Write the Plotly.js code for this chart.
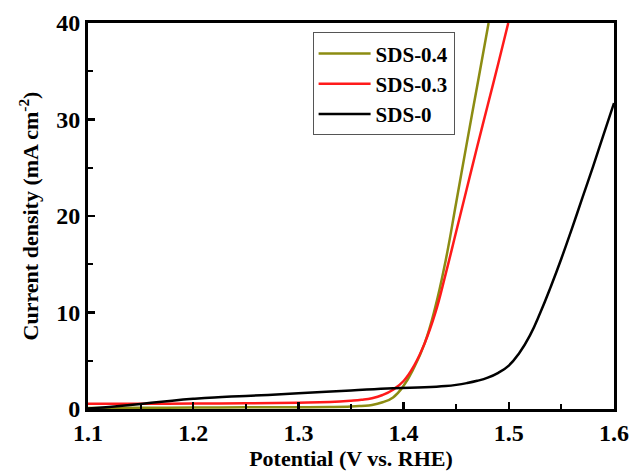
<!DOCTYPE html>
<html>
<head>
<meta charset="utf-8">
<script src="https://cdn.plot.ly/plotly-3.0.1.min.js"></script>
<style>html,body{margin:0;padding:0;background:#fff;}#chart{width:632px;height:471px;}</style>
</head>
<body>
<div id="chart"></div>
<script>
// SDS-0.4 (olive)
const v04 = [1.10, 1.15, 1.20, 1.25, 1.30, 1.33, 1.35, 1.36, 1.37, 1.38, 1.39, 1.40, 1.41, 1.42, 1.43, 1.44, 1.45, 1.46, 1.47, 1.4808];
const j04 = [0.10, 0.12, 0.15, 0.17, 0.18, 0.20, 0.25, 0.32, 0.42, 0.70, 1.20, 2.40, 4.30, 6.80, 10.5, 15.4, 21.4, 27.5, 33.5, 40.0];
// SDS-0.3 (red)
const v03 = [1.10, 1.15, 1.20, 1.25, 1.30, 1.33, 1.35, 1.36, 1.37, 1.38, 1.39, 1.40, 1.41, 1.42, 1.43, 1.44, 1.45, 1.46, 1.47, 1.48, 1.49, 1.4995];
const j03 = [0.55, 0.55, 0.56, 0.60, 0.65, 0.72, 0.85, 0.95, 1.12, 1.45, 2.00, 2.90, 4.50, 6.80, 9.90, 14.0, 18.4, 22.8, 27.2, 31.5, 35.8, 40.0];
// SDS-0 (black)
const v0 = [1.10, 1.12, 1.14, 1.16, 1.18, 1.20, 1.22, 1.25, 1.30, 1.35, 1.39, 1.42, 1.44, 1.45, 1.46, 1.47, 1.48, 1.49, 1.50, 1.51, 1.52, 1.53, 1.54, 1.55, 1.56, 1.57, 1.58, 1.59, 1.60];
const j0 = [0.05, 0.22, 0.42, 0.64, 0.86, 1.05, 1.20, 1.35, 1.62, 1.92, 2.15, 2.25, 2.38, 2.50, 2.68, 2.92, 3.25, 3.75, 4.50, 5.80, 7.60, 10.0, 12.7, 15.6, 18.7, 21.9, 25.1, 28.4, 31.7];

const names = ["SDS-0.4", "SDS-0.3", "SDS-0"];
const colors = ["#8c8c12", "#ff1a1a", "#000000"];

const font = "Liberation Serif";
const xs = [v04, v03, v0], ys = [j04, j03, j0];
const traces = names.map((n, i) => ({
  x: xs[i], y: ys[i], name: "<b>" + n + "</b>", mode: "lines",
  line: {color: colors[i], width: 2.5, shape: "spline", smoothing: 1.3}
}));

const xticks = [1.1, 1.2, 1.3, 1.4, 1.5, 1.6];
const yticks = [0, 10, 20, 30, 40];

const axisCommon = {
  showline: true, linecolor: "#000", linewidth: 3, mirror: true,
  ticks: "inside", ticklen: 7, tickwidth: 2.5, tickcolor: "#000",
  showgrid: false, zeroline: false,
  tickfont: {family: font, size: 24, color: "#000"}
};

const layout = {
  width: 632, height: 471,
  margin: {l: 88, r: 18, t: 23, b: 62},
  paper_bgcolor: "#fff", plot_bgcolor: "#fff",
  font: {family: font, color: "#000"},
  showlegend: true,
  legend: {
    x: 0.427, y: 0.976, xanchor: "left", yanchor: "top",
    bgcolor: "#fff", bordercolor: "#555", borderwidth: 1,
    font: {family: font, size: 21, color: "#000"},
    itemwidth: 52, tracegroupgap: 0
  },
  xaxis: Object.assign({}, axisCommon, {
    range: [1.1, 1.6], tickvals: xticks, ticktext: xticks.map(v => "<b>" + v.toFixed(1) + "</b>"),
    minor: {ticks: "inside", ticklen: 5, tickwidth: 2, tickcolor: "#000", tickvals: [1.15, 1.25, 1.35, 1.45, 1.55], showgrid: false},
    title: {text: "<b>Potential (V vs. RHE)</b>", font: {family: font, size: 22, color: "#000"}, standoff: 2}
  }),
  yaxis: Object.assign({}, axisCommon, {
    range: [0, 40], tickvals: yticks, ticktext: yticks.map(v => "<b>" + v + "</b>"),
    minor: {ticks: "inside", ticklen: 5, tickwidth: 2, tickcolor: "#000", tickvals: [5, 15, 25, 35], showgrid: false},
    title: {text: "<b>Current density (mA cm<sup>-2</sup>)</b>", font: {family: font, size: 22, color: "#000"}, standoff: 12}
  })
};

Plotly.newPlot("chart", traces, layout, {displayModeBar: false, staticPlot: true});
</script>
</body>
</html>
